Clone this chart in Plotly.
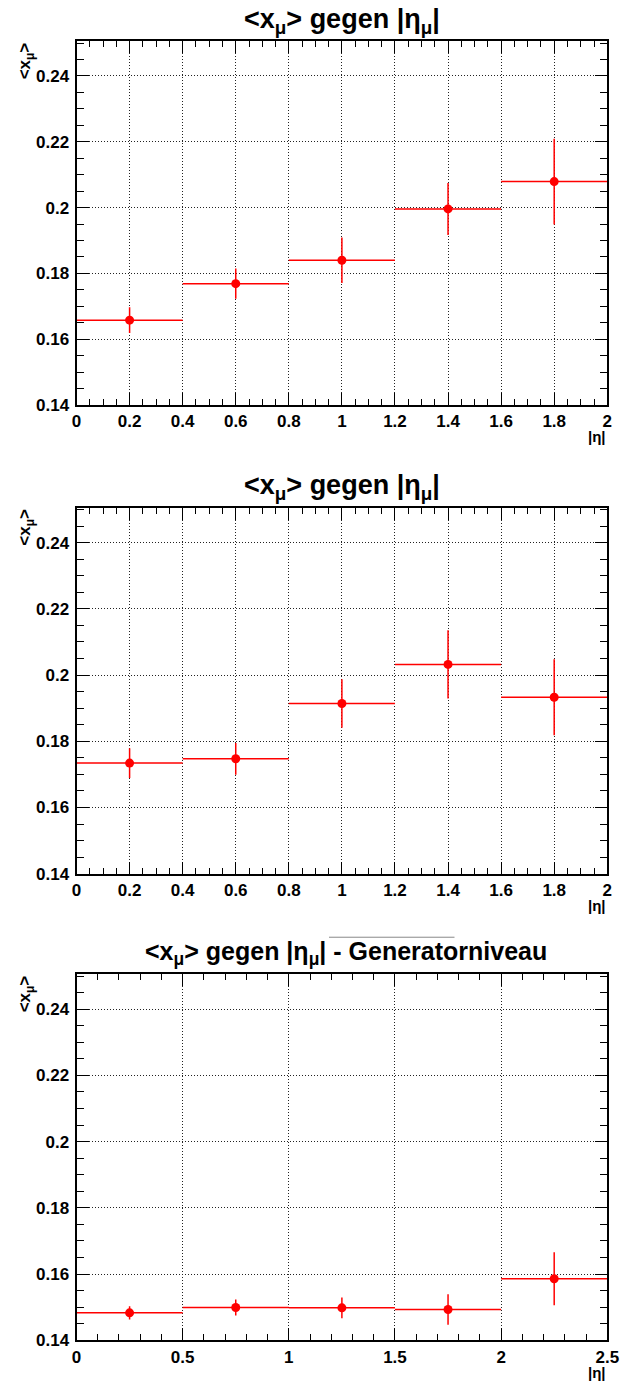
import plotly.graph_objects as go

W, H = 629, 1394

# ---- data ----
x_bins_a = [0.2, 0.6, 1.0, 1.4, 1.8]
x_half_a = [0.2, 0.2, 0.2, 0.2, 0.2]
y_panel1 = [0.1658, 0.1769, 0.1840, 0.1996, 0.2079]
err_panel1 = [0.0039, 0.0046, 0.0069, 0.0079, 0.0130]
y_panel2 = [0.1734, 0.1747, 0.1914, 0.2032, 0.1933]
err_panel2 = [0.0045, 0.0048, 0.0073, 0.0103, 0.0115]
x_bins_b = [0.25, 0.75, 1.25, 1.75, 2.25]
x_half_b = [0.25, 0.25, 0.25, 0.25, 0.25]
y_panel3 = [0.1483, 0.1499, 0.1498, 0.1493, 0.1586]
err_panel3 = [0.0020, 0.0024, 0.0031, 0.0046, 0.0080]

titles = ["&lt;x<sub>μ</sub>&gt; gegen |η<sub>μ</sub>|",
          "&lt;x<sub>μ</sub>&gt; gegen |η<sub>μ</sub>|",
          "&lt;x<sub>μ</sub>&gt; gegen |η<sub>μ</sub>| - Generatorniveau"]
ytitle = "&lt;x<sub>μ</sub>&gt;"
xtitle = "|η|"
y_ticks = [0.14, 0.16, 0.18, 0.2, 0.22, 0.24]
y_ticklabels = ["0.14", "0.16", "0.18", "0.2", "0.22", "0.24"]

FONT = "Liberation Sans"
RED = "#ff0000"

# panel frames in pixels (top, bottom)
frames = [(41.7, 408), (511.5, 880), (981.5, 1350)]
xl, xr = 73.5, 619

def py(p):
    return 1 - p / H

fig = go.Figure()
datasets = [(x_bins_a, x_half_a, y_panel1, err_panel1),
            (x_bins_a, x_half_a, y_panel2, err_panel2),
            (x_bins_b, x_half_b, y_panel3, err_panel3)]

for i, (xs, xh, ys, es) in enumerate(datasets):
    n = "" if i == 0 else str(i + 1)
    fig.add_trace(go.Scatter(
        x=xs, y=ys, mode="markers",
        marker=dict(color=RED, size=9),
        error_x=dict(type="data", array=xh, color=RED, thickness=1.5, width=0),
        error_y=dict(type="data", array=es, color=RED, thickness=1.5, width=0),
        xaxis="x" + n, yaxis="y" + n, showlegend=False))

annotations = []
shapes = []
for i in range(3):
    n = "" if i == 0 else str(i + 1)
    top, bot = frames[i]
    if i < 2:
        xrange = [0, 2]; dt = 0.2; mdt = 0.05
    else:
        xrange = [0, 2.5]; dt = 0.5; mdt = 0.1
    common = dict(showline=True, linecolor="black", linewidth=2, mirror="allticks",
                  ticks="inside", ticklen=12, tickwidth=1, tickcolor="black",
                  showgrid=True, gridcolor="#222222", griddash="1px,2px", gridwidth=1,
                  zeroline=False,
                  tickfont=dict(family=FONT, size=17, color="black", weight="bold"))
    fig.layout["xaxis" + n] = dict(
        domain=[xl / W, xr / W], anchor="y" + n, range=xrange, dtick=dt, tick0=0,
        ticklabelstandoff=0,
        minor=dict(ticks="inside", ticklen=6, dtick=mdt, tickcolor="black", showgrid=False),
        **common)
    fig.layout["yaxis" + n] = dict(
        domain=[py(bot), py(top)], anchor="x" + n, range=[0.14, 0.2505],
        tickvals=y_ticks, ticktext=y_ticklabels, ticklabelstandoff=2,
        minor=dict(ticks="inside", ticklen=7, dtick=0.005, tick0=0.14, tickcolor="black", showgrid=False),
        **common)
    # title
    annotations.append(dict(
        text="<b>" + titles[i] + "</b>", x=(xl + xr) / 2 / W + (0.006 if i == 2 else 0),
        y=py(top - 21 if i < 2 else top - 21.5),
        xref="paper", yref="paper", xanchor="center", yanchor="middle", showarrow=False,
        font=dict(family=FONT, size=27 if i < 2 else 25, color="black")))
    # y title
    annotations.append(dict(
        text="<b>" + ytitle + "</b>", x=22 / W, y=py(top - 1), xref="paper", yref="paper",
        xanchor="center", yanchor="top", textangle=-90, showarrow=False,
        font=dict(family=FONT, size=17, color="black")))
    # x title
    annotations.append(dict(
        text="<b>" + xtitle + "</b>", x=(xr + 1) / W, y=py(bot + 32), xref="paper", yref="paper",
        xanchor="right", yanchor="middle", showarrow=False,
        font=dict(family=FONT, size=15, color="black")))

shapes.append(dict(type="line", xref="paper", yref="paper",
                   x0=333 / W, x1=462 / W, y0=py(944), y1=py(944),
                   line=dict(color="#888888", width=1)))

fig.update_layout(width=W, height=H, margin=dict(l=0, r=0, t=0, b=0),
                  paper_bgcolor="white", plot_bgcolor="white",
                  annotations=annotations, shapes=shapes,
                  font=dict(family=FONT, color="black"))

fig.write_html("out.html")
